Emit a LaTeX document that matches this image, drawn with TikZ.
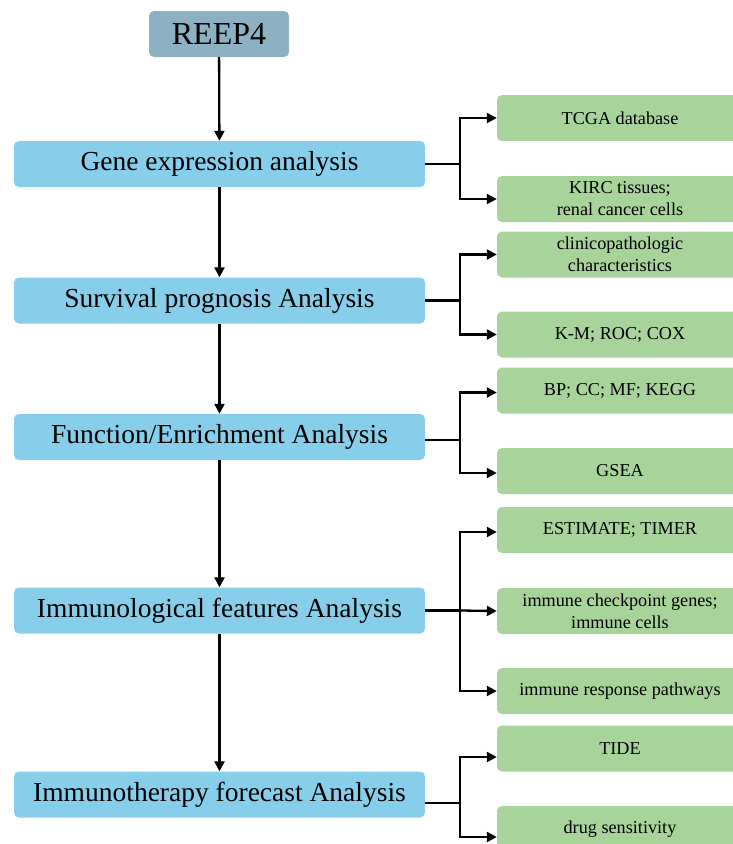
\documentclass[tikz,border=0pt]{standalone}
\usepackage{fontspec}
\setmainfont{Liberation Serif}
\usetikzlibrary{arrows.meta,calc}
\definecolor{topc}{HTML}{8DB0C3}
\definecolor{bluec}{HTML}{87CEEB}
\definecolor{greenc}{HTML}{A8D39A}
\tikzset{
  topbox/.style={fill=topc,rounded corners=5pt,minimum width=140pt,minimum height=46pt,inner sep=0pt,font=\fontsize{32}{34}\selectfont},
  mainbox/.style={fill=bluec,rounded corners=5pt,minimum width=411pt,minimum height=46pt,inner sep=0pt,font=\fontsize{27.5}{30}\selectfont},
  subbox/.style={fill=greenc,rounded corners=5pt,minimum width=246pt,minimum height=46pt,inner sep=0pt,align=center,font=\fontsize{18.2}{22}\selectfont},
  conn/.style={line width=2.3pt,black},
  arr/.style={line width=2.3pt,black,-{Triangle[length=10pt,width=10pt]}},
}
\begin{document}
\begin{tikzpicture}[x=1pt,y=-1pt]
\useasboundingbox (0,0) rectangle (733,844);
\clip (0,0) rectangle (733,844);
\fill[white] (0,0) rectangle (733,844);
% main column
\node[topbox] (reep) at (219,34) {REEP4};
\node[mainbox] (gene) at (219.5,164) {Gene expression analysis};
\node[mainbox] (surv) at (219.5,300.5) {Survival prognosis Analysis};
\node[mainbox] (func) at (219.5,437) {Function/Enrichment Analysis};
\node[mainbox] (immu) at (219.5,610.5) {Immunological features Analysis};
\node[mainbox] (ther) at (219.5,794.5) {Immunotherapy forecast Analysis};
% sub boxes
\node[subbox] (tcga) at (620,118) {TCGA database};
\node[subbox] (kirc) at (620,199) {KIRC tissues;\\renal cancer cells};
\node[subbox] (clin) at (620,254.5) {clinicopathologic\\characteristics};
\node[subbox] (km) at (620,334.5) {K-M; ROC; COX};
\node[subbox] (bp) at (620,390.5) {BP; CC; MF; KEGG};
\node[subbox] (gsea) at (620,471) {GSEA};
\node[subbox] (esti) at (620,530) {ESTIMATE; TIMER};
\node[subbox] (chk) at (620,611) {immune checkpoint genes;\\immune cells};
\node[subbox] (resp) at (620,691) {immune response pathways};
\node[subbox] (tide) at (620,748.5) {TIDE};
\node[subbox] (drug) at (620,829) {drug sensitivity};
% vertical arrows
\draw[arr] (reep) -- (gene);
\draw[arr] (gene) -- (surv);
\draw[arr] (surv) -- (func);
\draw[arr] (func) -- (immu);
\draw[arr] (immu) -- (ther);
% branches
\draw[conn] (gene.east) -- ++(35,0) coordinate (g1);
\draw[arr] (g1) |- (tcga.west);
\draw[arr] (g1) |- (kirc.west);
\draw[conn] (surv.east) -- ++(35,0) coordinate (s1);
\draw[arr] (s1) |- (clin.west);
\draw[arr] (s1) |- (km.west);
\draw[conn] ($(func.east)+(0,3)$) -- ++(35,0) coordinate (f1);
\draw[arr] (f1) |- ($(bp.west)+(0,2)$);
\draw[arr] (f1) |- ($(gsea.west)+(0,2)$);
\draw[conn] (immu.east) -- ++(35,0) coordinate (i1);
\draw[arr] (i1) |- ($(esti.west)+(0,2)$);
\draw[arr] (i1) -- (chk.west);
\draw[arr] (i1) |- (resp.west);
\draw[conn] ($(ther.east)+(0,8.5)$) -- ++(35,0) coordinate (t1);
\draw[arr] (t1) |- ($(tide.west)+(0,8.5)$);
\draw[arr] (t1) |- ($(drug.west)+(0,8)$);
\end{tikzpicture}
\end{document}
